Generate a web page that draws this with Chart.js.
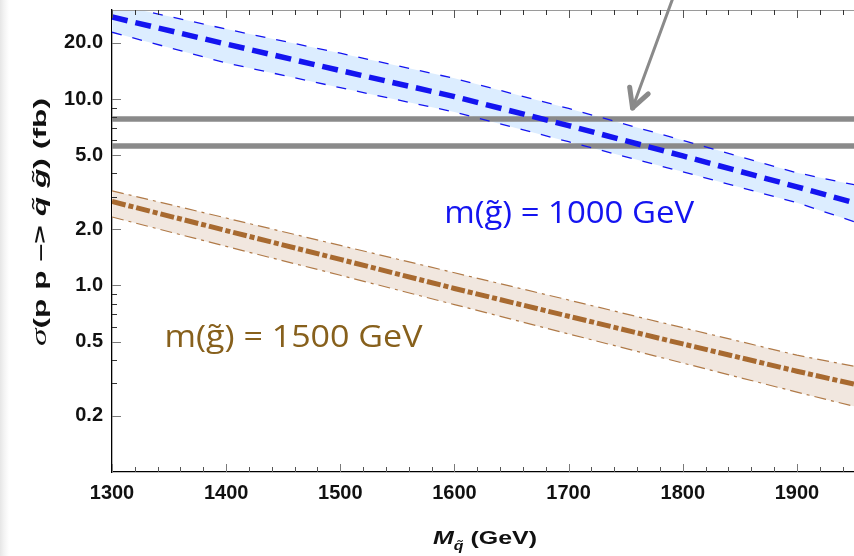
<!DOCTYPE html>
<html>
<head>
<meta charset="utf-8">
<script src="https://cdn.jsdelivr.net/npm/chart.js@4.4.1/dist/chart.umd.min.js"></script>
<style>
  html, body { margin: 0; padding: 0; }
  body {
    width: 854px; height: 556px; overflow: hidden;
    background: linear-gradient(to right, #e6e6e6 0px, #f3f3f3 4px, #ffffff 9px);
  }
  #wrap { position: relative; width: 854px; height: 556px; }
</style>
</head>
<body>
<div id="wrap"><canvas id="c" width="854" height="556"></canvas></div>
<script>
// Squark mass grid (GeV)
const squarkMass = [1300, 1400, 1500, 1600, 1700, 1800, 1900, 1950];

// sigma(pp -> squark gluino) in fb, gluino mass 1000 GeV: central value and scale band
const g1000Central = [27.5, 19.7, 14.2, 10.3, 7.2, 4.95, 3.38, 2.78];
const g1000Upper   = [32.4, 23.7, 17.6, 12.9, 8.9, 6.0, 4.02, 3.47];
const g1000Lower   = [22.8, 15.6, 11.5, 8.52, 5.9, 4.07, 2.78, 2.20];

// same for gluino mass 1500 GeV
const g1500Central = [2.82, 1.97, 1.38, 0.964, 0.684, 0.486, 0.347, 0.296];
const g1500Upper   = [3.22, 2.30, 1.64, 1.17, 0.836, 0.594, 0.423, 0.369];
const g1500Lower   = [2.33, 1.62, 1.135, 0.79, 0.55, 0.384, 0.268, 0.225];

// horizontal reference levels (fb)
const limitMass = [1300, 1950];
const limitHigh = [7.8, 7.8];
const limitLow  = [5.6, 5.6];

// axis ticks
const xTicks = [1300, 1400, 1500, 1600, 1700, 1800, 1900];
const xMinorTicks = [1320, 1340, 1360, 1380, 1420, 1440, 1460, 1480, 1520, 1540, 1560, 1580,
                     1620, 1640, 1660, 1680, 1720, 1740, 1760, 1780, 1820, 1840, 1860, 1880,
                     1920, 1940];
const yTicks = [0.2, 0.5, 1, 2, 5, 10, 20];
const yMinorTicks = [0.3, 0.4, 0.6, 0.7, 0.8, 0.9, 3, 4, 6, 7, 8, 9];

const pts = (xs, ys) => xs.map((x, i) => ({ x: x, y: ys[i] }));

const BLUE = '#1414f0';
const BROWN = '#a86a30';
const BROWN_THIN = '#b07a48';
const GRAY = '#8a8a8a';

// draw a run of text pieces with mixed fonts, squeezed/stretched to a given width
function drawRuns(ctx, runs, x, y, targetWidth, align) {
  let w = 0;
  runs.forEach(r => { ctx.font = r.font; r.w = ctx.measureText(r.text).width; w += r.w; });
  const sx = targetWidth ? targetWidth / w : 1;
  ctx.save();
  ctx.translate(x, y);
  ctx.scale(sx, 1);
  let cx = align === 'center' ? -w / 2 : 0;
  ctx.textBaseline = 'alphabetic';
  ctx.textAlign = 'left';
  runs.forEach(r => {
    ctx.font = r.font;
    ctx.fillStyle = r.color || ctx.fillStyle;
    ctx.fillText(r.text, cx, r.dy || 0);
    cx += r.w;
  });
  ctx.restore();
}

const framePlugin = {
  id: 'frame',
  afterDatasetsDraw(chart) {
    const { ctx, chartArea: a, scales: { x, y } } = chart;
    ctx.save();

    // top frame line
    ctx.strokeStyle = '#9a9a9a';
    ctx.lineWidth = 1.2;
    ctx.beginPath();
    ctx.moveTo(a.left, a.top + 0.5);
    ctx.lineTo(a.right, a.top + 0.5);
    ctx.stroke();

    // inward ticks
    const tick = (x0, y0, x1, y1, col) => {
      ctx.strokeStyle = col; ctx.lineWidth = 1;
      ctx.beginPath(); ctx.moveTo(x0, y0); ctx.lineTo(x1, y1); ctx.stroke();
    };
    xTicks.forEach(v => {
      const px = Math.round(x.getPixelForValue(v)) + 0.5;
      tick(px, a.bottom, px, a.bottom - 8, '#7a7a7a');
      tick(px, a.top, px, a.top + 8, '#555');
    });
    xMinorTicks.forEach(v => {
      const px = Math.round(x.getPixelForValue(v)) + 0.5;
      tick(px, a.bottom, px, a.bottom - 5, '#555');
      tick(px, a.top, px, a.top + 5, '#333');
    });
    yTicks.forEach(v => {
      const py = Math.round(y.getPixelForValue(v)) + 0.5;
      tick(a.left, py, a.left + 9, py, '#7a7a7a');
    });
    yMinorTicks.forEach(v => {
      const py = Math.round(y.getPixelForValue(v)) + 0.5;
      tick(a.left, py, a.left + 5, py, '#333');
    });

    // pointer arrow
    const tail = { x: x.getPixelForValue(1795), y: y.getPixelForValue(40) };
    const tip = { x: x.getPixelForValue(1756), y: y.getPixelForValue(8.95) };
    ctx.strokeStyle = GRAY;
    ctx.lineCap = 'round';
    ctx.lineWidth = 3;
    ctx.beginPath(); ctx.moveTo(tail.x, tail.y); ctx.lineTo(tip.x, tip.y); ctx.stroke();
    const ang = Math.atan2(tail.y - tip.y, tail.x - tip.x);
    ctx.lineWidth = 5;
    [-0.49, 0.49].forEach(d => {
      ctx.beginPath();
      ctx.moveTo(tip.x, tip.y);
      ctx.lineTo(tip.x + 21 * Math.cos(ang + d), tip.y + 21 * Math.sin(ang + d));
      ctx.stroke();
    });

    // curve labels
    const lblFont = '31px "Open Sans"';
    drawRuns(ctx, [{ text: 'm(g\u0303) = 1000 GeV', font: lblFont, color: BLUE }],
      x.getPixelForValue(1591), y.getPixelForValue(2.15), 250, 'left');
    drawRuns(ctx, [{ text: 'm(g\u0303) = 1500 GeV', font: lblFont, color: '#87601c' }],
      x.getPixelForValue(1346), y.getPixelForValue(0.466), 258, 'left');

    // axis titles
    ctx.fillStyle = '#111';
    const b = 'bold 18px "Liberation Sans"';
    const bi = 'italic bold 18px "Liberation Sans"';
    ctx.save();
    ctx.translate(46, 222);
    ctx.rotate(-Math.PI / 2);
    drawRuns(ctx, [
      { text: '\u03c3', font: 'italic 20px "Liberation Serif"' },
      { text: '(p p \u2013> ', font: b },
      { text: 'q\u0303', font: bi },
      { text: ' ', font: b },
      { text: 'g\u0303', font: bi },
      { text: ') (fb)', font: b }
    ], 0, 0, 248, 'center');
    ctx.restore();

    drawRuns(ctx, [
      { text: 'M', font: 'italic bold 19px "Liberation Sans"' },
      { text: 'q\u0303', font: 'italic bold 12px "Liberation Sans"', dy: 6 },
      { text: ' (GeV)', font: 'bold 19px "Liberation Sans"' }
    ], 433, 544, 104, 'left');

    ctx.restore();
  }
};

const tickFont = { family: 'Liberation Sans', weight: 'bold', size: 20 };

// fixed axis boxes so the plot area sits at left 112, top 10, bottom 472
function fixX(s) { s.height = 84; s.paddingLeft = 0; s.paddingRight = 0; }
function fixY(s) { s.width = 112; s.paddingTop = 0; s.paddingBottom = 0; }

new Chart(document.getElementById('c'), {
  type: 'line',
  data: {
    datasets: [
      { data: pts(squarkMass, g1000Upper), borderColor: BLUE, borderWidth: 1.3, borderDash: [10, 11],
        fill: '+1', backgroundColor: '#dcedff', pointRadius: 0, order: 1 },
      { data: pts(squarkMass, g1000Lower), borderColor: BLUE, borderWidth: 1.3, borderDash: [10, 11],
        fill: false, pointRadius: 0, order: 1 },
      { data: pts(squarkMass, g1000Central), borderColor: BLUE, borderWidth: 5.5, borderDash: [16, 8],
        fill: false, pointRadius: 0, order: 0 },
      { data: pts(squarkMass, g1500Upper), borderColor: BROWN_THIN, borderWidth: 1.2, borderDash: [12, 5, 3, 5],
        fill: '+1', backgroundColor: '#f1e7df', pointRadius: 0, order: 1 },
      { data: pts(squarkMass, g1500Lower), borderColor: BROWN_THIN, borderWidth: 1.2, borderDash: [12, 5, 3, 5],
        fill: false, pointRadius: 0, order: 1 },
      { data: pts(squarkMass, g1500Central), borderColor: BROWN, borderWidth: 5, borderDash: [14, 3, 5, 3],
        fill: false, pointRadius: 0, order: 0 },
      { data: pts(limitMass, limitHigh), borderColor: GRAY, borderWidth: 5.5, fill: false, pointRadius: 0, order: 5 },
      { data: pts(limitMass, limitLow), borderColor: GRAY, borderWidth: 5.5, fill: false, pointRadius: 0, order: 5 }
    ]
  },
  options: {
    responsive: false,
    animation: false,
    events: [],
    layout: { padding: { top: 10, right: 0, left: 0, bottom: 0 } },
    plugins: {
      legend: { display: false },
      tooltip: { enabled: false },
      filler: { drawTime: 'beforeDatasetsDraw' }
    },
    scales: {
      x: {
        type: 'linear', min: 1300, max: 1950,
        afterFit: fixX,
        afterBuildTicks(s) { s.ticks = xTicks.map(v => ({ value: v })); },
        ticks: { font: tickFont, color: '#111', padding: 9, maxRotation: 0, autoSkip: false,
                 callback: v => String(v) },
        grid: { display: false, drawTicks: false },
        border: { display: true, color: '#000', width: 1.3 }
      },
      y: {
        type: 'logarithmic', min: 0.1, max: 30,
        afterFit: fixY,
        afterBuildTicks(s) { s.ticks = yTicks.map(v => ({ value: v })); },
        ticks: { font: tickFont, color: '#111', padding: 9, autoSkip: false,
                 callback: v => Number(v).toFixed(1) },
        grid: { display: false, drawTicks: false },
        border: { display: true, color: '#000', width: 1.3 }
      }
    }
  },
  plugins: [framePlugin]
});
</script>
</body>
</html>
